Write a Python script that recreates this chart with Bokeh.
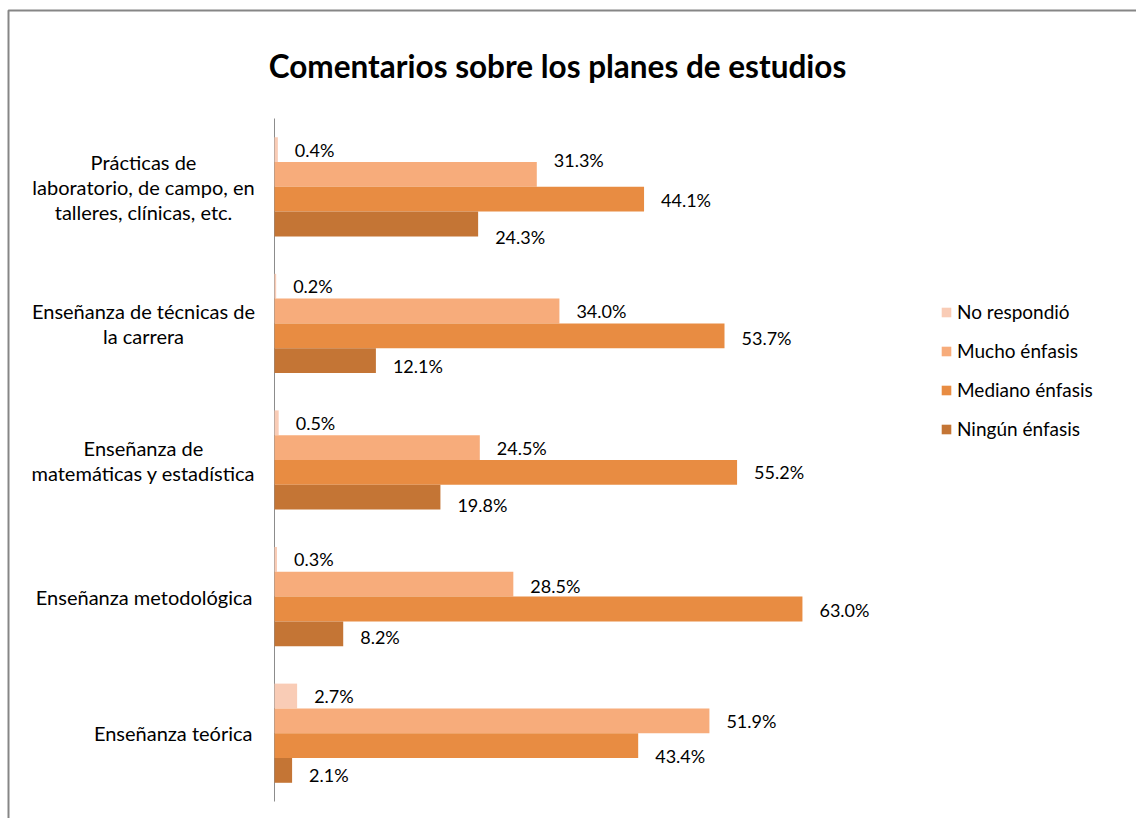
from bokeh.plotting import figure
from bokeh.models import Range1d, Label, LabelSet, ColumnDataSource, BoxAnnotation
from bokeh.embed import file_html
from bokeh.resources import INLINE
from bokeh.core.properties import value

# ---------------- data ----------------
title_text = "Comentarios sobre los planes de estudios"
categories = [
    "Prácticas de\nlaboratorio, de campo, en\ntalleres, clínicas, etc.",
    "Enseñanza de técnicas de\nla carrera",
    "Enseñanza de\nmatemáticas y estadística",
    "Enseñanza metodológica",
    "Enseñanza teórica",
]
series_names = ["No respondió", "Mucho énfasis", "Mediano énfasis", "Ningún énfasis"]
no_respondio = [0.4, 0.2, 0.5, 0.3, 2.7]
mucho_enfasis = [31.3, 34.0, 24.5, 28.5, 51.9]
mediano_enfasis = [44.1, 53.7, 55.2, 63.0, 43.4]
ningun_enfasis = [24.3, 12.1, 19.8, 8.2, 2.1]
series_values = [no_respondio, mucho_enfasis, mediano_enfasis, ningun_enfasis]

# ---------------- styling / layout ----------------
colors = ["#F9CCB6", "#F7AC7B", "#E88C42", "#C47535"]
# manual vertical nudges (px, positive = down) of the value labels, as in the original
label_nudge_px = [
    [0, -14, 1, 13],
    [0, 0, 2, 5],
    [0, 0, 0, 8],
    [0, 2, 1, 3],
    [0, 0, 10, 5],
]
FONT = "Lato"
W, H = 1136, 818
ZERO_X = 274        # canvas x of the value axis (0 %)
TOP_Y = 118         # canvas y of the top of the category area
PX_PER_PCT = 8.38
ROW_PX = 136.6
n = len(categories)
BAR_H = 0.1815


def xd(cx):
    return (cx - ZERO_X) / PX_PER_PCT


def yd(cy):
    return (cy - TOP_Y) / ROW_PX


p = figure(width=W, height=H, output_backend="svg", toolbar_location=None, tools="",
           x_range=Range1d(xd(0), xd(W)), y_range=Range1d(yd(H), yd(0)),
           x_axis_location=None, y_axis_location=None,
           min_border=0, min_border_left=0, min_border_right=0,
           min_border_top=0, min_border_bottom=0)
p.background_fill_color = "white"
p.border_fill_color = "white"
p.outline_line_color = None
p.xgrid.visible = False
p.ygrid.visible = False

# chart border
p.add_layout(BoxAnnotation(left=xd(8), right=xd(5000), top=yd(10), bottom=yd(5000),
                           fill_color=None, fill_alpha=0, line_color="#868686",
                           line_alpha=1.0, line_width=2, level="underlay"))

# category axis line
p.segment(x0=[0], y0=[0], x1=[0], y1=[n], line_color="#8C8C8C", line_width=1)

# bars
lab_x, lab_y, lab_t, lab_dy = [], [], [], []
for j, (name, vals, col) in enumerate(zip(series_names, series_values, colors)):
    ys = [i + 0.5 + (j - 1.5) * BAR_H for i in range(n)]
    p.hbar(y=ys, left=0, right=vals, height=BAR_H, fill_color=col, line_color=None,
           legend_label=name)
    for i, v in enumerate(vals):
        lab_x.append(v)
        lab_y.append(ys[i])
        lab_t.append(f"{v:.1f}%")
        lab_dy.append(-label_nudge_px[i][j])

src = ColumnDataSource(dict(x=lab_x, y=lab_y, t=lab_t, dy=lab_dy))
p.add_layout(LabelSet(x="x", y="y", text="t", source=src, x_offset=17, y_offset="dy",
                      text_font=value(FONT), text_font_size="18px", text_color="#000000",
                      text_align="left", text_baseline="middle"))

# category labels
for i, cat in enumerate(categories):
    lines = cat.split("\n")
    m = len(lines)
    for k, line in enumerate(lines):
        if m > 1:
            cx, align = 143, "center"
        else:
            cx, align = 252, "right"
        p.add_layout(Label(x=xd(cx), y=i + 0.5, text=line, text_align=align,
                           text_baseline="middle", y_offset=-(k - (m - 1) / 2) * 25,
                           text_font=FONT, text_font_size="20px", text_color="#000000"))

# title
p.add_layout(Label(x=xd(557), y=yd(65), text=title_text, text_align="center",
                   text_baseline="middle", text_font=FONT, text_font_size="31.5px",
                   text_font_style="bold", text_color="#000000"))

# legend
lg = p.legend[0]
lg.location = (940, H - 440)
lg.orientation = "vertical"
lg.background_fill_alpha = 0
lg.border_line_color = None
lg.padding = 0
lg.margin = 0
lg.glyph_width = 12
lg.glyph_height = 12
lg.label_height = 22
lg.spacing = 16
lg.label_standoff = 5
lg.label_text_font = FONT
lg.label_text_font_size = "19px"
lg.label_text_color = "#000000"

open("out.html", "w").write(file_html(p, INLINE))
